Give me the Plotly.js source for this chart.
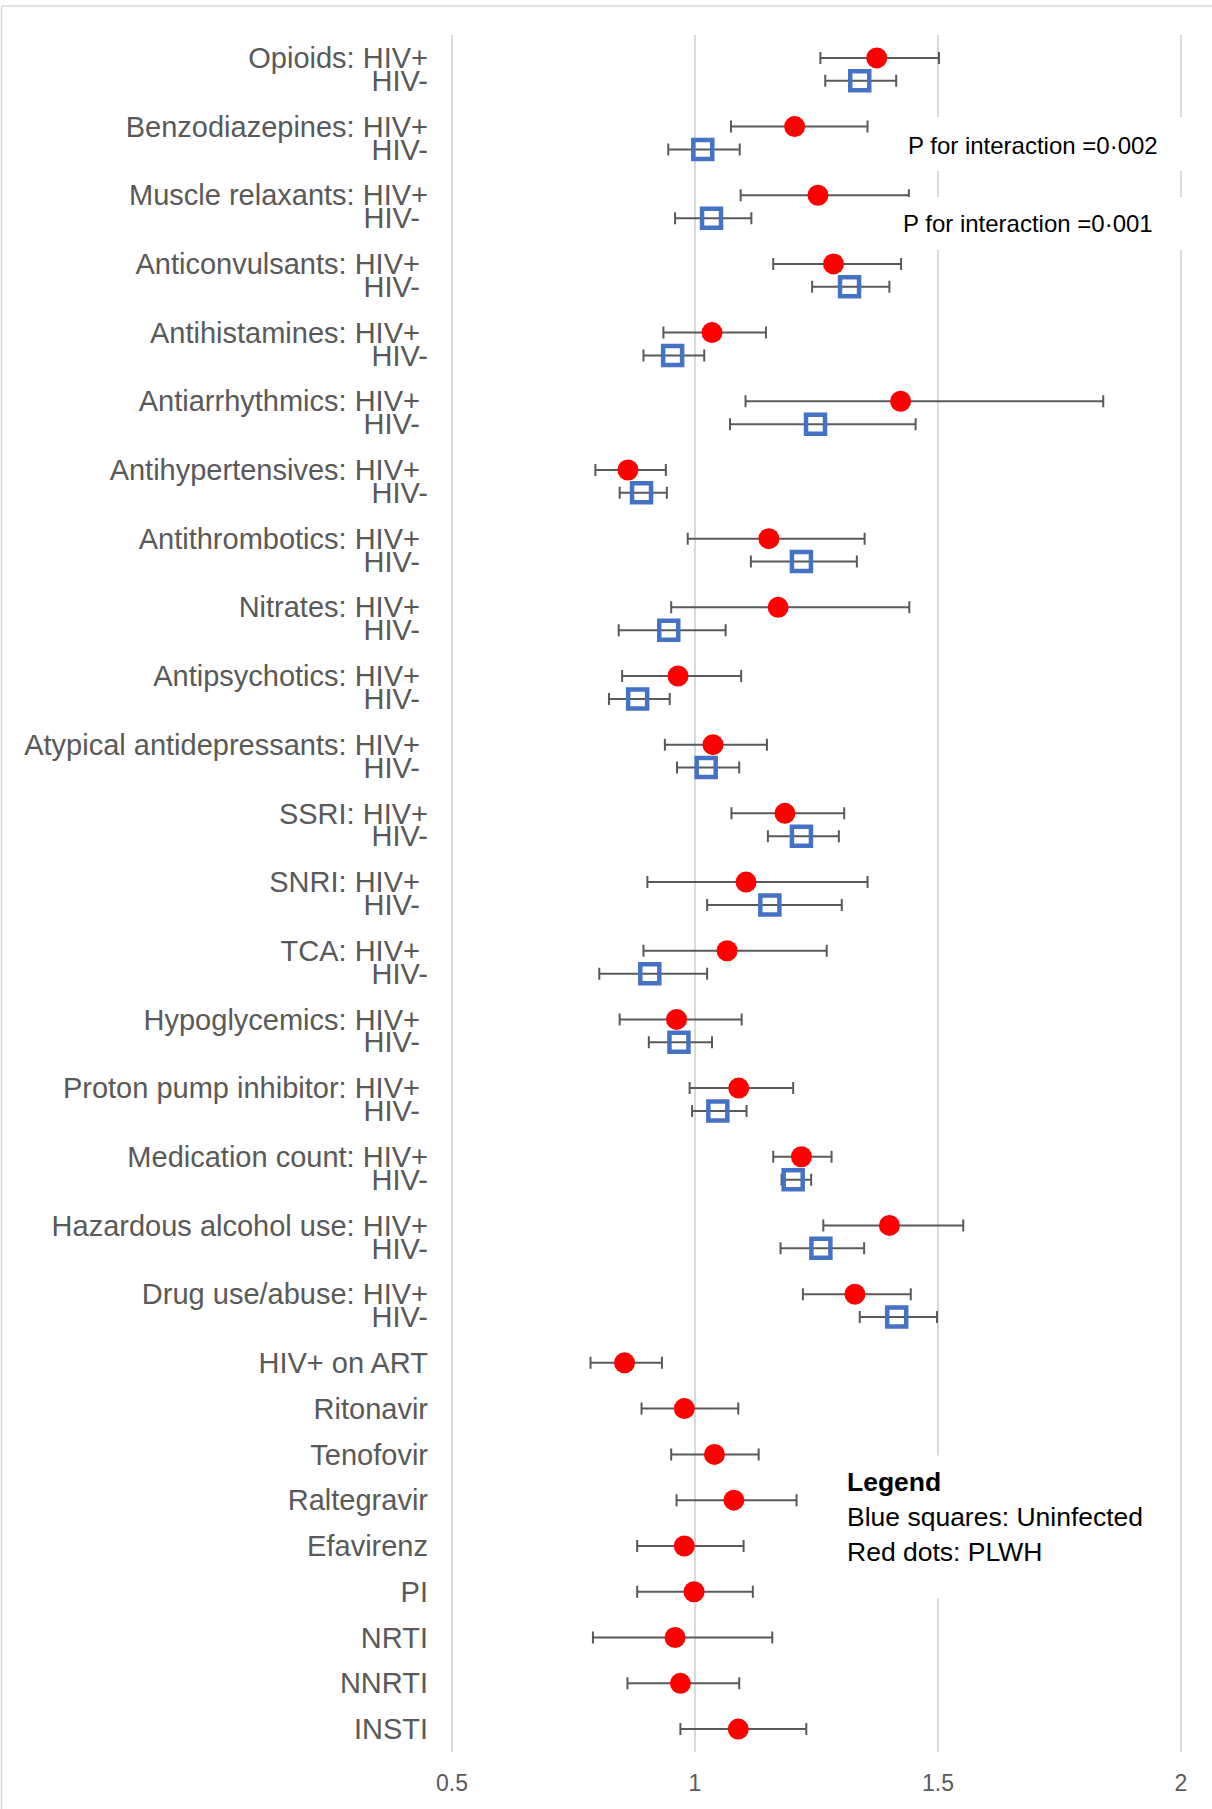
<!DOCTYPE html>
<html>
<head>
<meta charset="utf-8">
<script src="https://cdn.plot.ly/plotly-3.0.1.min.js"></script>
<style>
  html, body { margin: 0; padding: 0; background: #ffffff; }
  #chart { width: 1212px; height: 1809px; }
</style>
</head>
<body>
<div id="chart"></div>
<script>
// ---------- DATA ----------
// Medication / factor groups compared between PLWH (HIV+) and uninfected (HIV-)
const groups = [
  'Opioids', 'Benzodiazepines', 'Muscle relaxants', 'Anticonvulsants', 'Antihistamines',
  'Antiarrhythmics', 'Antihypertensives', 'Antithrombotics', 'Nitrates', 'Antipsychotics',
  'Atypical antidepressants', 'SSRI', 'SNRI', 'TCA', 'Hypoglycemics',
  'Proton pump inhibitor', 'Medication count', 'Hazardous alcohol use', 'Drug use/abuse'
];
// Tick labels as written in the original (some carry a trailing space)
const posLabels = [
  'Opioids: HIV+', 'Benzodiazepines: HIV+', 'Muscle relaxants: HIV+', 'Anticonvulsants: HIV+ ',
  'Antihistamines: HIV+ ', 'Antiarrhythmics: HIV+ ', 'Antihypertensives: HIV+ ', 'Antithrombotics: HIV+ ',
  'Nitrates: HIV+ ', 'Antipsychotics: HIV+ ', 'Atypical antidepressants: HIV+ ', 'SSRI: HIV+',
  'SNRI: HIV+ ', 'TCA: HIV+ ', 'Hypoglycemics: HIV+ ', 'Proton pump inhibitor: HIV+ ',
  'Medication count: HIV+', 'Hazardous alcohol use: HIV+', 'Drug use/abuse: HIV+'
];
const negLabels = [
  'HIV-', 'HIV-', 'HIV- ', 'HIV- ', 'HIV-', 'HIV- ', 'HIV-', 'HIV- ', 'HIV- ', 'HIV- ',
  'HIV- ', 'HIV-', 'HIV- ', 'HIV-', 'HIV- ', 'HIV- ', 'HIV-', 'HIV-', 'HIV-'
];
// HIV+ (red dots) odds ratios with 95% CI
const posOR = [1.374, 1.205, 1.253, 1.285, 1.035, 1.423, 0.862, 1.152, 1.171, 0.965, 1.037, 1.185, 1.105, 1.066, 0.962, 1.090, 1.219, 1.400, 1.329];
const posLo = [1.258, 1.074, 1.094, 1.161, 0.935, 1.104, 0.795, 0.985, 0.951, 0.850, 0.938, 1.075, 0.902, 0.894, 0.845, 0.989, 1.161, 1.264, 1.222];
const posHi = [1.502, 1.355, 1.440, 1.424, 1.146, 1.840, 0.940, 1.349, 1.441, 1.095, 1.148, 1.307, 1.355, 1.271, 1.096, 1.202, 1.281, 1.552, 1.444];
// HIV- (blue squares) odds ratios with 95% CI
const negOR = [1.339, 1.016, 1.034, 1.318, 0.954, 1.248, 0.890, 1.219, 0.946, 0.882, 1.023, 1.219, 1.154, 0.907, 0.967, 1.047, 1.202, 1.259, 1.415];
const negLo = [1.268, 0.945, 0.959, 1.241, 0.894, 1.072, 0.845, 1.115, 0.843, 0.823, 0.963, 1.150, 1.025, 0.803, 0.905, 0.994, 1.178, 1.176, 1.339];
const negHi = [1.414, 1.092, 1.116, 1.400, 1.019, 1.454, 0.942, 1.333, 1.063, 0.948, 1.091, 1.296, 1.302, 1.025, 1.035, 1.106, 1.239, 1.348, 1.498];
// ART-related rows (PLWH only)
const artLabels = ['HIV+ on ART', 'Ritonavir', 'Tenofovir', 'Raltegravir', 'Efavirenz', 'PI', 'NRTI', 'NNRTI', 'INSTI'];
const artOR = [0.855, 0.978, 1.040, 1.080, 0.978, 0.998, 0.959, 0.970, 1.089];
const artLo = [0.785, 0.890, 0.951, 0.962, 0.881, 0.881, 0.790, 0.861, 0.970];
const artHi = [0.932, 1.089, 1.131, 1.209, 1.100, 1.119, 1.159, 1.091, 1.229];
// x axis ticks
const xTicks = [0.5, 1, 1.5, 2];
const xTickText = ['0.5', '1', '1.5', '2'];
const pTexts = ['P for interaction =0\u00B7002', 'P for interaction =0\u00B7001'];

// ---------- LAYOUT HELPERS ----------
const W = 1212, H = 1809;
const M = { l: 450, r: 29, t: 35, b: 56.5 };
const PW = W - M.l - M.r, PH = H - M.t - M.b;
const PXU = 486;                       // pixels per x unit
const xPad = 2 / PXU;                  // keep edge gridlines 2px inside the plot area
const px2x = p => (p - M.l) / PW;
const py2y = p => (H - M.b - p) / PH;
const nb = s => s.replace(/ $/, '\u00A0');

// slot positions: each group takes 3 slots (HIV+, HIV-, gap); ART rows every 2 slots
const posY = groups.map((g, i) => i * 3);
const negY = groups.map((g, i) => i * 3 + 1);
const artStart = groups.length * 3;
const artY = artLabels.map((g, i) => artStart + i * 2);

const tickvals = [], ticktext = [];
groups.forEach((g, i) => {
  tickvals.push(posY[i]); ticktext.push(nb(posLabels[i]));
  tickvals.push(negY[i]); ticktext.push(nb(negLabels[i]));
});
artLabels.forEach((l, i) => { tickvals.push(artY[i]); ticktext.push(l); });

const errStyle = { color: '#595959', thickness: 2, width: 6 };
const mkErr = (or, lo, hi) => Object.assign({
  type: 'data', symmetric: false,
  array: or.map((v, i) => hi[i] - v),
  arrayminus: or.map((v, i) => v - lo[i])
}, errStyle);

const traces = [
  {
    type: 'scatter', mode: 'markers', name: 'Uninfected',
    x: negOR, y: negY,
    error_x: mkErr(negOR, negLo, negHi),
    marker: { symbol: 'square-open', size: 19, color: '#4472C4', line: { color: '#4472C4', width: 4.5 } },
    hoverinfo: 'x+y'
  },
  {
    type: 'scatter', mode: 'markers', name: 'PLWH',
    x: posOR, y: posY,
    error_x: mkErr(posOR, posLo, posHi),
    marker: { symbol: 'circle', size: 21, color: '#FF0000' },
    hoverinfo: 'x+y'
  },
  {
    type: 'scatter', mode: 'markers', name: 'PLWH ART',
    x: artOR, y: artY,
    error_x: mkErr(artOR, artLo, artHi),
    marker: { symbol: 'circle', size: 21, color: '#FF0000' },
    hoverinfo: 'x+y'
  }
];

const totalSlots = artY[artY.length - 1] + 1;
const whiteBox = (x0, x1, y0, y1) => ({
  type: 'rect', xref: 'paper', yref: 'paper', layer: 'above',
  x0: px2x(x0), x1: px2x(x1), y0: py2y(y1), y1: py2y(y0),
  fillcolor: '#ffffff', line: { width: 0 }
});

const layout = {
  width: W, height: H,
  margin: M,
  paper_bgcolor: '#ffffff', plot_bgcolor: '#ffffff',
  showlegend: false,
  font: { family: 'Liberation Sans, Arial, sans-serif', color: '#595959' },
  xaxis: {
    range: [xTicks[0] - xPad, xTicks[xTicks.length - 1] + xPad],
    tickmode: 'array', tickvals: xTicks, ticktext: xTickText,
    showgrid: true, gridcolor: '#d9d9d9', gridwidth: 2,
    zeroline: false, showline: false, ticks: '',
    tickfont: { size: 23, color: '#595959' }, ticklabelstandoff: 15, fixedrange: true
  },
  yaxis: {
    range: [totalSlots, -1], tickmode: 'array', tickvals: tickvals, ticktext: ticktext,
    showgrid: false, zeroline: false, showline: false, ticks: '',
    tickfont: { size: 29, color: '#595959' }, ticklabelstandoff: 21, automargin: false, fixedrange: true
  },
  shapes: [
    whiteBox(890, 1196, 117, 171),
    whiteBox(890, 1196, 197, 250),
    whiteBox(835, 1168, 1456, 1599),
    { type: 'line', xref: 'paper', yref: 'paper', layer: 'above',
      x0: px2x(1.5), x1: px2x(1.5), y0: py2y(6), y1: py2y(1815), line: { color: '#d9d9d9', width: 1.5 } },
    { type: 'line', xref: 'paper', yref: 'paper', layer: 'above',
      x0: px2x(1.5), x1: px2x(1220), y0: py2y(6), y1: py2y(6), line: { color: '#d9d9d9', width: 1.5 } }
  ],
  annotations: [
    { xref: 'paper', yref: 'paper', x: px2x(906), y: py2y(146), xanchor: 'left', yanchor: 'middle',
      text: pTexts[0], showarrow: false,
      font: { family: 'Liberation Sans, Arial', size: 24, color: '#000000' } },
    { xref: 'paper', yref: 'paper', x: px2x(901), y: py2y(224), xanchor: 'left', yanchor: 'middle',
      text: pTexts[1], showarrow: false,
      font: { family: 'Liberation Sans, Arial', size: 24, color: '#000000' } },
    { xref: 'paper', yref: 'paper', x: px2x(845), y: py2y(1482), xanchor: 'left', yanchor: 'middle',
      text: '<b>Legend</b>', showarrow: false,
      font: { family: 'Liberation Sans, Arial', size: 26.5, color: '#000000' } },
    { xref: 'paper', yref: 'paper', x: px2x(845), y: py2y(1517), xanchor: 'left', yanchor: 'middle',
      text: 'Blue squares: Uninfected', showarrow: false,
      font: { family: 'Liberation Sans, Arial', size: 26.5, color: '#000000' } },
    { xref: 'paper', yref: 'paper', x: px2x(845), y: py2y(1552), xanchor: 'left', yanchor: 'middle',
      text: 'Red dots: PLWH', showarrow: false,
      font: { family: 'Liberation Sans, Arial', size: 26.5, color: '#000000' } }
  ]
};

Plotly.newPlot('chart', traces, layout, { displayModeBar: false, staticPlot: true });
</script>
</body>
</html>
